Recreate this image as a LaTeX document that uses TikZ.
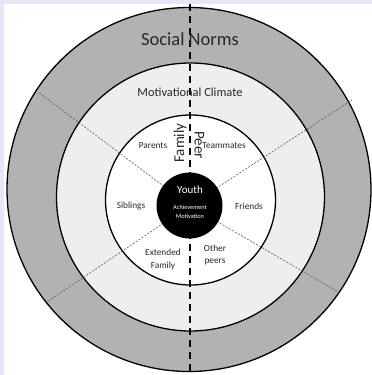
\documentclass[tikz,border=0pt]{standalone}
\usepackage{fontspec}
\setmainfont{Carlito}
\definecolor{lav}{RGB}{229,231,246}
\definecolor{ringdark}{RGB}{178,178,178}
\definecolor{ringlight}{RGB}{238,238,238}
\definecolor{txt}{RGB}{40,40,40}
\begin{document}
\begin{tikzpicture}[x=1pt,y=-1pt,
  ringline/.style={draw=black,line width=1.3pt},
  sector/.style={draw=black!65,line width=0.6pt,dash pattern=on 2pt off 1.5pt},
  divider/.style={draw=black,line width=2pt,dash pattern=on 7pt off 5pt},
  lbl/.style={text=txt,font=\fontsize{9.3}{12.5}\selectfont,align=center,inner sep=0pt}]
\fill[lav] (0,0) rectangle (372,375);
\fill[white] (4,4) rectangle (372,375);
\useasboundingbox (0,0) rectangle (372,375);
\coordinate (co) at (189,189.5);
\coordinate (cm) at (190.5,197);
\coordinate (ci) at (190.5,200);
\coordinate (cy) at (189.5,205.5);
\filldraw[ringline,fill=ringdark] (co) circle[radius=182pt];
\filldraw[ringline,fill=ringlight] (cm) circle[radius=134pt];
\filldraw[ringline,fill=white] (ci) circle[radius=85pt];
\coordinate (e1) at (38,92);
\coordinate (e2) at (352,100);
\coordinate (e3) at (47,302);
\coordinate (e4) at (340,293);
\draw[sector] (cy) -- (e1);
\draw[sector] (cy) -- (e2);
\draw[sector] (cy) -- (e3);
\draw[sector] (cy) -- (e4);
\coordinate (dtop) at (189.5,4);
\coordinate (dbot) at (189.5,375);
\draw[divider] (dtop) -- (dbot);
\fill[black] (cy) circle[radius=33pt];
\node[text=txt,font=\fontsize{18.5}{20}\selectfont] (sn) at (190,39) {Social Norms};
\node[text=txt,font=\fontsize{12.4}{14}\selectfont] (mc) at (190,92.5) {Motivational Climate};
\node[text=txt,font=\fontsize{15}{16}\selectfont,rotate=90] (fam) at (180,143) {Family};
\node[text=txt,font=\fontsize{15}{16}\selectfont,rotate=-90] (peer) at (199.5,145) {Peer};
\node[lbl] (par) at (153,146) {Parents};
\node[lbl] (team) at (224,146) {Teammates};
\node[lbl] (sib) at (131,206) {Siblings};
\node[lbl] (fri) at (249,206) {Friends};
\node[lbl] (ext) at (163,259.5) {Extended\\Family};
\node[lbl] (oth) at (215,255) {Other\\peers};
\node[text=white,font=\fontsize{11}{12}\selectfont] (you) at (190,190) {Youth};
\node[text=white,font=\fontsize{6.3}{9}\selectfont,align=center] (ach) at (190,211.5) {Achievement\\Motivation};
\end{tikzpicture}
\end{document}
